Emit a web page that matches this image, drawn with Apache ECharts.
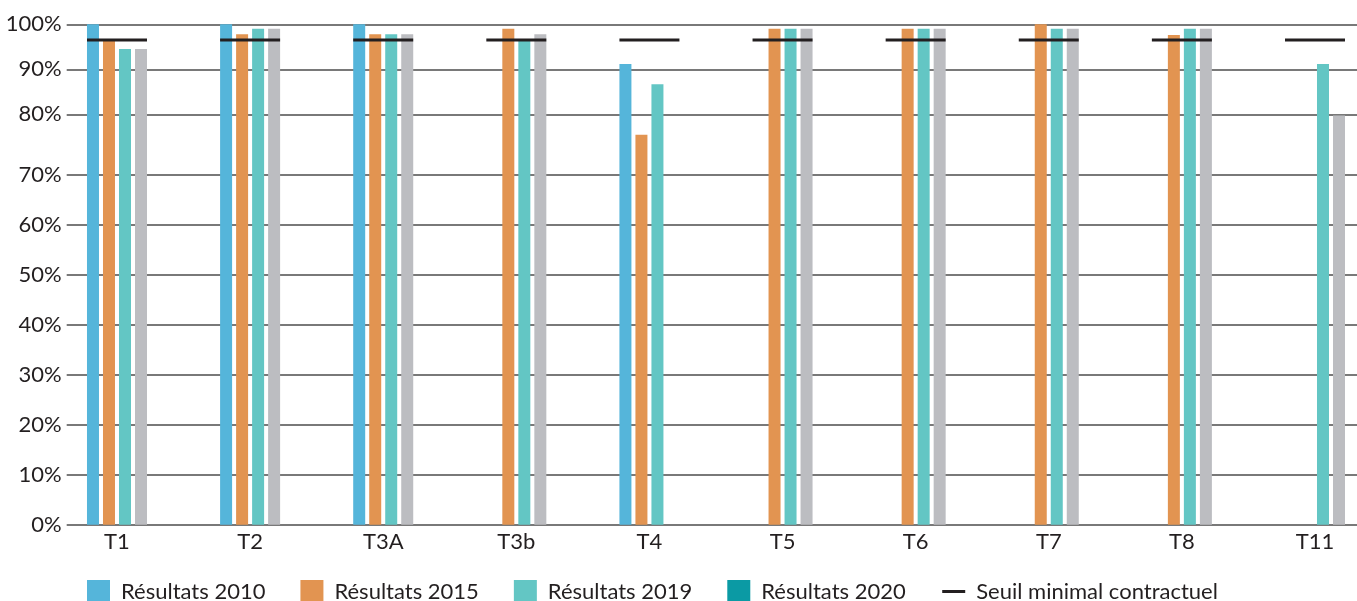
<!DOCTYPE html>
<html><head><meta charset="utf-8">
<script src="https://cdn.jsdelivr.net/npm/echarts@6/dist/echarts.min.js"></script>
<style>html,body{margin:0;padding:0;background:#fff}#c{width:1357px;height:601px}</style>
</head><body><div id="c"></div>
<script>
// ---- data ----
const categories = ['T1', 'T2', 'T3A', 'T3b', 'T4', 'T5', 'T6', 'T7', 'T8', 'T11'];
const res2010 = [100, 100, 100, null, 91.2, null, null, null, null, null];
const res2015 = [96.5, 97.8, 97.8, 99, 76.6, 99, 99, 100, 97.6, null];
const res2019 = [94.5, 99, 97.8, 96.5, 86.7, 99, 99, 99, 99, 91.2];
const res2020 = [94.5, 99, 97.8, 97.8, null, 99, 99, 99, 99, 79.8];
const seuil = [96.5, 96.5, 96.5, 96.5, 96.5, 96.5, 96.5, 96.5, 96.5, 96.5];
const yTickPercents = [0, 10, 20, 30, 40, 50, 60, 70, 80, 90, 100];
const seriesNames = ['Résultats 2010', 'Résultats 2015', 'Résultats 2019', 'Résultats 2020', 'Seuil minimal contractuel'];

// ---- the reference's y axis is piecewise (0-70 / 70-80 / 80-100 stretched differently) ----
const knots = [[0, 0], [70, 70], [80, 82], [100, 100]];
function pos(v) {
  for (let k = 1; k < knots.length; k++) {
    const [a, pa] = knots[k - 1], [b, pb] = knots[k];
    if (v <= b) return pa + (v - a) * (pb - pa) / (b - a);
  }
  return knots[knots.length - 1][1];
}
const conv = arr => arr.map(v => v == null ? '-' : pos(v));
const tickPos = yTickPercents.map(pos);

const FONT = 'Lato';
const TXT = '#231f20';
const colors = ['#55b5da', '#e29451', '#63c6c4', '#bcbdc1'];
const legendColor2020 = '#0b9aa4';
const halfSeg = 0.2254; // half length of the threshold dash, in category units

const barBase = {type: 'bar', xAxisIndex: 0, yAxisIndex: 0, barWidth: 12, barGap: '33.4%', z: 2};
const seuilData = [];
seuil.forEach((v, i) => {
  seuilData.push([i - halfSeg, pos(v)], [i + halfSeg, pos(v)], [i + 0.5, '-']);
});

const chart = echarts.init(document.getElementById('c'), null, {renderer: 'canvas'});
chart.setOption({
  animation: false,
  textStyle: {fontFamily: FONT, color: TXT},
  grid: [
    {left: 50.44, width: 1331.1, top: 24.3, bottom: 76.3, containLabel: false, outerBoundsMode: 'none'},
    {left: 66.7, right: 0, top: 24.3, bottom: 76.3, containLabel: false, outerBoundsMode: 'none'}
  ],
  xAxis: [
    {type: 'category', gridIndex: 0, data: categories,
     axisLine: {show: false}, axisTick: {show: false},
     axisLabel: {fontSize: 22, color: TXT, fontFamily: FONT, margin: 6, interval: 0}},
    {type: 'value', gridIndex: 1, min: 0, max: 1, show: false},
    {type: 'value', gridIndex: 0, min: -0.5, max: 9.5, show: false}
  ],
  yAxis: [
    {type: 'value', gridIndex: 0, min: 0, max: 100, show: false},
    {type: 'value', gridIndex: 1, min: 0, max: 100,
     axisLine: {show: false},
     axisTick: {show: false, customValues: tickPos},
     splitLine: {show: true, lineStyle: {color: '#4d4d4d', width: 1.5}},
     axisLabel: {fontSize: 22, color: TXT, fontFamily: FONT, margin: 5, customValues: tickPos,
       formatter: v => {
         let best = 0;
         tickPos.forEach((p, i) => { if (Math.abs(p - v) < Math.abs(tickPos[best] - v)) best = i; });
         return yTickPercents[best] + '%';
       }}}
  ],
  legend: {
    left: 87, top: 580, padding: 0, itemWidth: 23, itemHeight: 23, itemGap: 35,
    textStyle: {fontSize: 22, color: TXT, fontFamily: FONT, padding: [0, 0, 0, 6]},
    data: [
      {name: seriesNames[0], icon: 'rect'},
      {name: seriesNames[1], icon: 'rect'},
      {name: seriesNames[2], icon: 'rect'},
      {name: seriesNames[3], icon: 'rect', itemStyle: {color: legendColor2020}},
      {name: seriesNames[4], itemStyle: {color: 'rgba(0,0,0,0)', borderWidth: 0, opacity: 0},
       lineStyle: {width: 3, color: '#231f20'}}
    ]
  },
  series: [
    Object.assign({}, barBase, {name: seriesNames[0], data: conv(res2010), itemStyle: {color: colors[0]}}),
    Object.assign({}, barBase, {name: seriesNames[1], data: conv(res2015), itemStyle: {color: colors[1]}}),
    Object.assign({}, barBase, {name: seriesNames[2], data: conv(res2019), itemStyle: {color: colors[2]}}),
    Object.assign({}, barBase, {name: seriesNames[3], data: conv(res2020), itemStyle: {color: colors[3]}}),
    {type: 'line', name: seriesNames[4], xAxisIndex: 2, yAxisIndex: 0, data: seuilData,
     symbol: 'none', showSymbol: false, connectNulls: false, z: 5,
     lineStyle: {color: '#231f20', width: 3}, itemStyle: {color: '#231f20'}}
  ]
});
</script></body></html>
